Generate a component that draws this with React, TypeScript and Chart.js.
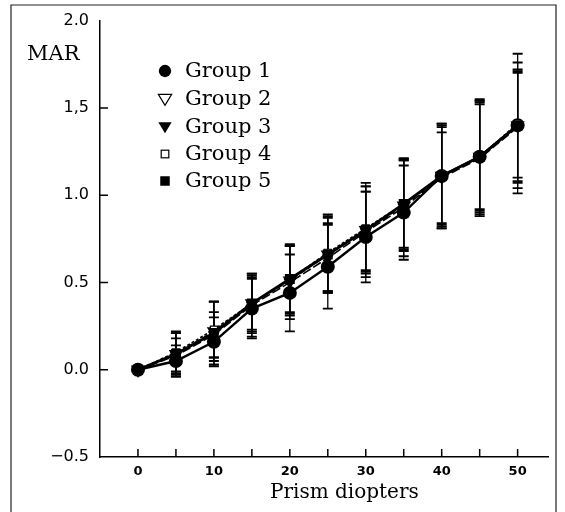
import React, { useEffect, useRef } from "react";
import { Chart, registerables } from "chart.js";

Chart.register(...registerables);

const prism = [0, 5, 10, 15, 20, 25, 30, 35, 40, 45, 50];
const xTickValues = [0, 5, 10, 15, 20, 25, 30, 35, 40, 45, 50];
const yTickValues = [-0.5, 0, 0.5, 1.0, 1.5, 2.0];
const yTickLabels = ["\u22120.5", "0.0", "0.5", "1.0", "1,5", "2.0"];
const yInnerTicks = [0, 0.5, 1.0, 1.5];

const group1 = [0, 0.05, 0.16, 0.35, 0.44, 0.59, 0.76, 0.9, 1.11, 1.22, 1.4];
const group2 = [0, 0.09, 0.22, 0.38, 0.51, 0.66, 0.8, 0.94, 1.11, 1.22, 1.4];
const group3 = [0, 0.08, 0.2, 0.37, 0.5, 0.64, 0.79, 0.93, 1.1, 1.21, 1.39];
const group4 = [0, 0.1, 0.23, 0.38, 0.52, 0.67, 0.81, 0.95, 1.11, 1.22, 1.41];
const group5 = [0, 0.09, 0.21, 0.38, 0.52, 0.66, 0.8, 0.95, 1.11, 1.22, 1.4];

const sd1 = [0, 0.09, 0.14, 0.17, 0.22, 0.24, 0.26, 0.27, 0.3, 0.33, 0.32];
const sd2 = [0, 0.12, 0.17, 0.16, 0.2, 0.22, 0.25, 0.26, 0.29, 0.31, 0.36];
const sd3 = [0, 0.1, 0.13, 0.18, 0.21, 0.2, 0.23, 0.28, 0.26, 0.33, 0.32];
const sd4 = [0, 0.11, 0.16, 0.15, 0.19, 0.22, 0.24, 0.25, 0.28, 0.3, 0.4];
const sd5 = [0, 0.13, 0.18, 0.17, 0.2, 0.21, 0.27, 0.26, 0.3, 0.32, 0.3];

const groupNames = ["Group 1", "Group 2", "Group 3", "Group 4", "Group 5"];
const groupValues = [group1, group2, group3, group4, group5];
const groupSds = [sd1, sd2, sd3, sd4, sd5];

const yTitle = "MAR";
const xTitle = "Prism diopters";

const SERIF = "'DejaVu Serif', 'Liberation Serif', serif";
const SANS = "'DejaVu Sans', 'Liberation Sans', sans-serif";

function drawMarker(ctx: CanvasRenderingContext2D, idx: number, x: number, y: number, scale = 1) {
  ctx.save();
  ctx.strokeStyle = "#000";
  ctx.fillStyle = "#000";
  ctx.lineWidth = 1.2;
  ctx.setLineDash([]);
  if (idx === 0) {
    ctx.beginPath();
    ctx.arc(x, y, 6.5 * scale, 0, Math.PI * 2);
    ctx.fill();
  } else if (idx === 1 || idx === 2) {
    const w = 7 * scale;
    ctx.beginPath();
    ctx.moveTo(x - w, y - w * 0.7);
    ctx.lineTo(x + w, y - w * 0.7);
    ctx.lineTo(x, y + w * 0.95);
    ctx.closePath();
    if (idx === 2) ctx.fill();
    else {
      ctx.fillStyle = "#fff";
      ctx.fill();
      ctx.stroke();
    }
  } else if (idx === 3) {
    const s = 4 * scale;
    ctx.fillStyle = "#fff";
    ctx.fillRect(x - s, y - s, 2 * s, 2 * s);
    ctx.strokeRect(x - s, y - s, 2 * s, 2 * s);
  } else {
    const s = 5 * scale;
    ctx.fillRect(x - s, y - s, 2 * s, 2 * s);
  }
  ctx.restore();
}

const decorPlugin = {
  id: "decor",
  beforeDatasetsDraw(chart: any) {
    const ctx: CanvasRenderingContext2D = chart.ctx;
    const xs = chart.scales.x;
    const ys = chart.scales.y;
    ctx.save();
    ctx.strokeStyle = "#000";
    groupValues.forEach((vals, g) => {
      const sds = groupSds[g];
      vals.forEach((v, i) => {
        if (sds[i] <= 0) return;
        const px = xs.getPixelForValue(prism[i]);
        const top = ys.getPixelForValue(v + sds[i]);
        const bot = ys.getPixelForValue(v - sds[i]);
        ctx.lineWidth = 1.3;
        ctx.beginPath();
        ctx.moveTo(px, top);
        ctx.lineTo(px, bot);
        ctx.stroke();
        ctx.lineWidth = 1.8;
        ctx.beginPath();
        ctx.moveTo(px - 5, top);
        ctx.lineTo(px + 5, top);
        ctx.moveTo(px - 5, bot);
        ctx.lineTo(px + 5, bot);
        ctx.stroke();
      });
    });
    ctx.restore();
  },
  afterDraw(chart: any) {
    const ctx: CanvasRenderingContext2D = chart.ctx;
    const xs = chart.scales.x;
    const ys = chart.scales.y;
    const area = chart.chartArea;
    ctx.save();
    ctx.strokeStyle = "#222";
    ctx.lineWidth = 1.2;
    ctx.beginPath();
    ctx.moveTo(11, 520);
    ctx.lineTo(11, 5);
    ctx.lineTo(556, 5);
    ctx.lineTo(556, 520);
    ctx.stroke();
    ctx.strokeStyle = "#000";
    ctx.lineWidth = 1.5;
    ctx.beginPath();
    xTickValues.forEach((v) => {
      const px = xs.getPixelForValue(v);
      ctx.moveTo(px, area.bottom);
      ctx.lineTo(px, area.bottom - 8);
    });
    yInnerTicks.forEach((v) => {
      const py = ys.getPixelForValue(v);
      ctx.moveTo(area.left, py);
      ctx.lineTo(area.left + 8, py);
    });
    ctx.stroke();
    ctx.fillStyle = "#000";
    ctx.font = `21px ${SERIF}`;
    ctx.textAlign = "left";
    ctx.textBaseline = "alphabetic";
    ctx.fillText(yTitle, 27, 60);
    ctx.font = `20px ${SERIF}`;
    ctx.fillText(xTitle, 270, 498);
    const rows = [71, 99, 127, 154, 181];
    ctx.font = `21px ${SERIF}`;
    ctx.textBaseline = "middle";
    groupNames.forEach((name, i) => {
      drawMarker(ctx, i, 165, rows[i], 0.95);
      ctx.fillStyle = "#000";
      ctx.fillText(name, 185, rows[i] + 1);
    });
    ctx.restore();
  },
};

export default function App() {
  const ref = useRef<HTMLCanvasElement | null>(null);
  useEffect(() => {
    if (!ref.current) return;
    const styles = [
      { dash: [], width: 2.4 },
      { dash: [6, 3], width: 1.6 },
      { dash: [9, 3], width: 1.6 },
      { dash: [3, 2], width: 1.6 },
      { dash: [], width: 2.8 },
    ];
    const pointStyles: any[] = ["circle", "triangle", "triangle", "rect", "rect"];
    const datasets = groupValues.map((vals, g) => ({
      label: groupNames[g],
      data: vals.map((v, i) => ({ x: prism[i], y: v })),
      order: 4 - g,
      borderColor: "#000",
      borderWidth: styles[g].width,
      borderDash: styles[g].dash,
      backgroundColor: g === 1 || g === 3 ? "#fff" : "#000",
      pointBorderColor: "#000",
      pointBackgroundColor: g === 1 || g === 3 ? "#fff" : "#000",
      pointStyle: pointStyles[g],
      pointRotation: g === 1 || g === 2 ? 180 : 0,
      pointRadius: g === 3 ? 5 : 7,
      pointBorderWidth: g === 1 || g === 3 ? 1.2 : 0,
      tension: 0,
      fill: false,
    }));
    const chart = new Chart(ref.current, {
      type: "line",
      data: { datasets },
      plugins: [decorPlugin],
      options: {
        animation: false,
        responsive: false,
        layout: { padding: { top: 20, right: 17, left: 0, bottom: 0 } },
        plugins: { legend: { display: false }, tooltip: { enabled: false }, title: { display: false } },
        scales: {
          x: {
            type: "linear",
            min: -5,
            max: 54,
            grid: { display: false, drawTicks: false },
            border: { display: true, color: "#000", width: 1.5 },
            afterBuildTicks: (s: any) => {
              s.ticks = xTickValues.map((v) => ({ value: v }));
            },
            afterFit: (s: any) => {
              s.height = 55;
            },
            ticks: {
              autoSkip: false,
              maxRotation: 0,
              padding: 7,
              color: "#000",
              font: { family: SANS, size: 13, weight: "bold" },
              callback: (v: any) => (Number(v) % 10 === 0 ? String(v) : ""),
            },
          },
          y: {
            type: "linear",
            min: -0.5,
            max: 2.0,
            grid: { display: false, drawTicks: false },
            border: { display: true, color: "#000", width: 1.5 },
            afterBuildTicks: (s: any) => {
              s.ticks = yTickValues.map((v) => ({ value: v }));
            },
            afterFit: (s: any) => {
              s.width = 100;
            },
            ticks: {
              autoSkip: false,
              padding: 11,
              color: "#000",
              font: { family: SANS, size: 16 },
              callback: (v: any) => {
                const i = yTickValues.findIndex((t) => Math.abs(t - Number(v)) < 1e-9);
                return i >= 0 ? yTickLabels[i] : "";
              },
            },
          },
        },
      },
    } as any);
    return () => chart.destroy();
  }, []);
  return (
    <div style={{ position: "absolute", left: 0, top: 0, width: 565, height: 512, background: "#fff" }}>
      <canvas ref={ref} width={565} height={512} style={{ display: "block" }} />
    </div>
  );
}
